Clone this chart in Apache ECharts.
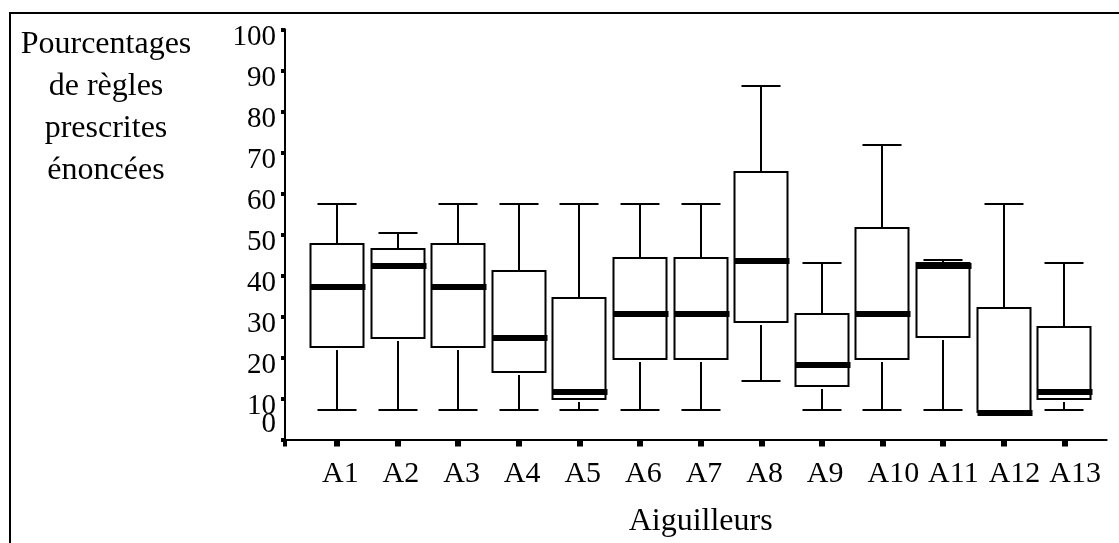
<!DOCTYPE html>
<html>
<head>
<meta charset="utf-8">
<title>Aiguilleurs</title>
<script src="https://cdn.jsdelivr.net/npm/echarts@6/dist/echarts.min.js"></script>
<style>
  html, body { margin: 0; padding: 0; background: #fff; }
  #main { width: 1119px; height: 543px; }
</style>
</head>
<body>
<div id="main"></div>
<script>
// valeurs (pourcentages)
const categories = ['A1', 'A2', 'A3', 'A4', 'A5', 'A6', 'A7', 'A8', 'A9', 'A10', 'A11', 'A12', 'A13']
const whiskerLow = [7.2, 7.2, 7.2, 7.2, 7.2, 7.1, 7.1, 14.3, 7.1, 7.1, 7.1, 6.8, 7.2]
const quartile1 = [22.6, 24.7, 22.6, 16.4, 9.8, 19.6, 19.6, 28.6, 13.0, 19.6, 24.9, 6.8, 9.9]
const medians = [37.2, 42.4, 37.2, 24.8, 11.6, 30.7, 30.7, 43.6, 18.2, 30.7, 42.4, 6.5, 11.7]
const quartile3 = [47.6, 46.4, 47.6, 41.0, 34.6, 44.3, 44.3, 65.1, 30.6, 51.5, 43.0, 32.0, 27.5]
const whiskerHigh = [57.4, 50.3, 57.4, 57.4, 57.4, 57.3, 57.3, 86.2, 43.1, 71.7, 43.7, 57.4, 43.1]
const yTitle = 'Pourcentages\nde règles\nprescrites\nénoncées'
const xTitle = 'Aiguilleurs'

const font = 'Liberation Serif'
const black = '#000'

let boxData = []
for (let i = 0; i < categories.length; i++) {
  boxData.push([i, whiskerLow[i], quartile1[i], medians[i], quartile3[i], whiskerHigh[i]])
}

function renderBox (params, api) {
  let i = api.value(0)
  let band = api.size([1, 0])[0]
  let boxW = Math.round(band * 0.875)
  let capW = Math.round(band * 0.64)
  let x = Math.round(api.coord([i, 0])[0])
  let yMin = Math.round(api.coord([i, api.value(1)])[1])
  let yQ1 = Math.round(api.coord([i, api.value(2)])[1])
  let yMed = Math.round(api.coord([i, api.value(3)])[1])
  let yQ3 = Math.round(api.coord([i, api.value(4)])[1])
  let yMax = Math.round(api.coord([i, api.value(5)])[1])
  let line = { stroke: black, lineWidth: 2 }
  let children = []
  // moustache basse (petit écart sous la boîte)
  if (yMin - yQ1 > 4) {
    children.push({ type: 'line', shape: { x1: x, y1: yQ1 + 3, x2: x, y2: yMin }, style: line })
  }
  children.push({ type: 'line', shape: { x1: x - capW / 2, y1: yMin, x2: x + capW / 2, y2: yMin }, style: line })
  children.push({ type: 'line', shape: { x1: x, y1: yMax, x2: x, y2: yQ3 }, style: line })
  children.push({ type: 'line', shape: { x1: x - capW / 2, y1: yMax, x2: x + capW / 2, y2: yMax }, style: line })
  children.push({
    type: 'rect',
    shape: { x: x - boxW / 2, y: yQ3, width: boxW, height: yQ1 - yQ3 },
    style: { fill: '#fff', stroke: black, lineWidth: 2 }
  })
  // médiane en trait épais
  children.push({
    type: 'rect',
    shape: { x: x - boxW / 2, y: yMed - 3, width: boxW + 2, height: 6 },
    style: { fill: black }
  })
  return { type: 'group', children: children }
}

let chart = echarts.init(document.getElementById('main'), null, { renderer: 'canvas' })
let gridTop = 29.3
let gridBottom = 103.5
// étiquettes en texte riche pour que le padding décale vraiment le texte
let yLabel = {
  fontFamily: font,
  fontSize: 29,
  color: black,
  margin: 9,
  formatter: function (v) {
    return '{n|' + v + '}'
  },
  rich: { n: { fontFamily: font, fontSize: 29, color: black } }
}

let option = {
  animation: false,
  backgroundColor: '#fff',
  textStyle: { fontFamily: font, color: black },
  graphic: [
    {
      type: 'polyline',
      shape: { points: [[10, 543], [10, 13], [1119, 13]] },
      style: { fill: null, stroke: black, lineWidth: 2 }
    },
    {
      type: 'text',
      x: 106,
      y: 24,
      style: {
        text: yTitle,
        fontFamily: font,
        fontSize: 32,
        lineHeight: 42,
        align: 'center',
        verticalAlign: 'top',
        fill: black
      }
    }
  ],
  grid: [
    // axes (cadre)
    { left: 285, right: 12.3, top: gridTop, bottom: gridBottom, outerBoundsMode: 'none' },
    // boîtes
    { left: 306.7, right: 24.4, top: gridTop, bottom: gridBottom, outerBoundsMode: 'none' },
    // étiquettes des aiguilleurs
    { left: 291.7, right: 39.4, top: gridTop, bottom: gridBottom, outerBoundsMode: 'none' }
  ],
  xAxis: [
    {
      gridIndex: 0,
      type: 'value',
      min: 0,
      max: 1,
      axisLine: { show: true, lineStyle: { color: black, width: 2 } },
      axisTick: { show: true, customValues: [0], length: 7, lineStyle: { color: black, width: 4 } },
      axisLabel: { show: false },
      splitLine: { show: false }
    },
    {
      gridIndex: 1,
      type: 'category',
      data: categories,
      boundaryGap: true,
      axisLine: { show: false },
      axisTick: { show: true, alignWithLabel: true, length: 7, lineStyle: { color: black, width: 6 } },
      axisLabel: { show: false },
      splitLine: { show: false },
      name: xTitle,
      nameLocation: 'middle',
      nameGap: 66,
      nameTextStyle: { fontFamily: font, fontSize: 32, color: black }
    },
    {
      gridIndex: 2,
      type: 'category',
      data: categories,
      boundaryGap: true,
      axisLine: { show: false },
      axisTick: { show: false },
      axisLabel: {
        show: true,
        interval: 0,
        align: 'left',
        margin: 20,
        fontFamily: font,
        fontSize: 30,
        color: black
      },
      splitLine: { show: false }
    }
  ],
  yAxis: [
    {
      gridIndex: 0,
      type: 'value',
      position: 'left',
      min: 0,
      max: 100,
      interval: 10,
      axisLine: { show: true, lineStyle: { color: black, width: 2 } },
      axisTick: { show: true, length: 4, lineStyle: { color: black, width: 4 } },
      axisLabel: Object.assign({}, yLabel, {
        customValues: [10, 20, 30, 40, 50, 60, 70, 80, 90, 100],
        showMaxLabel: true,
        padding: [16, 0, 0, 0]
      }),
      splitLine: { show: false }
    },
    {
      // le 0 est écrit au-dessus de sa graduation
      gridIndex: 0,
      type: 'value',
      position: 'left',
      min: 0,
      max: 100,
      axisLine: { show: false },
      axisTick: { show: false },
      axisLabel: Object.assign({}, yLabel, {
        customValues: [0],
        showMinLabel: true,
        padding: [0, 0, 30, 0]
      }),
      splitLine: { show: false }
    },
    { gridIndex: 1, type: 'value', min: 0, max: 100, show: false },
    { gridIndex: 2, type: 'value', min: 0, max: 100, show: false }
  ],
  series: [
    {
      type: 'custom',
      xAxisIndex: 1,
      yAxisIndex: 2,
      renderItem: renderBox,
      encode: { x: 0, y: [1, 2, 3, 4, 5] },
      data: boxData
    }
  ]
}

chart.setOption(option)
</script>
</body>
</html>
